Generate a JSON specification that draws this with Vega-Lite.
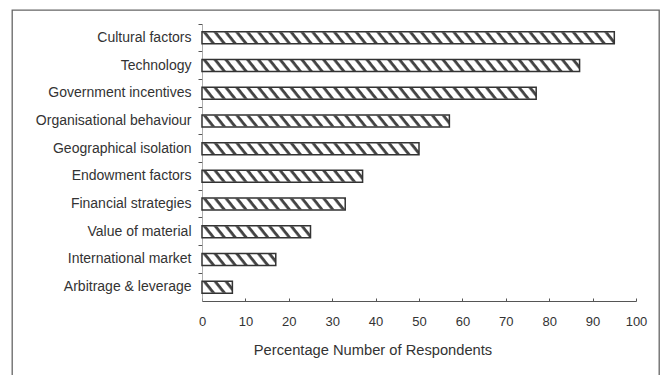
{
  "$schema": "https://vega.github.io/schema/vega-lite/v6.json",
  "width": 647,
  "height": 365,
  "autosize": {"type": "none"},
  "padding": {"left": 12, "top": 10, "right": 5, "bottom": 0},
  "background": "white",
  "config": {
    "view": {"stroke": "#666666", "strokeWidth": 1.3, "strokeDash": [1012, 647, 365]},
    "font": "Liberation Sans"
  },
  "data": {
    "values": [
      {"factor": "Cultural factors", "pct": 95},
      {"factor": "Technology", "pct": 87},
      {"factor": "Government incentives", "pct": 77},
      {"factor": "Organisational behaviour", "pct": 57},
      {"factor": "Geographical isolation", "pct": 50},
      {"factor": "Endowment factors", "pct": 37},
      {"factor": "Financial strategies", "pct": 33},
      {"factor": "Value of material", "pct": 25},
      {"factor": "International market", "pct": 17},
      {"factor": "Arbitrage & leverage", "pct": 7}
    ]
  },
  "encoding": {
    "y": {
      "field": "factor",
      "type": "nominal",
      "sort": null,
      "scale": {"range": [14, 291], "paddingInner": 0, "paddingOuter": 0},
      "axis": {
        "title": null,
        "orient": "left",
        "offset": -190,
        "bandPosition": 0,
        "tickSize": 4,
        "tickColor": "#555555",
        "domainColor": "#999999",
        "domainWidth": 0.8,
        "labelPadding": 7,
        "labelFontSize": 14,
        "labelColor": "#333333",
        "labelFont": "Liberation Sans"
      }
    }
  },
  "layer": [
    {
      "mark": {
        "type": "bar",
        "height": 11,
        "fill": {
          "gradient": "linear",
          "x1": 0, "y1": 0.0203, "x2": 1, "y2": 0,
          "stops": [
            {"offset": 0, "color": "#ffffff"}, {"offset": 0.004, "color": "#444444"}, {"offset": 0.009, "color": "#444444"}, {"offset": 0.012, "color": "#ffffff"},
            {"offset": 0.025, "color": "#ffffff"}, {"offset": 0.029, "color": "#444444"}, {"offset": 0.034, "color": "#444444"}, {"offset": 0.037, "color": "#ffffff"},
            {"offset": 0.05, "color": "#ffffff"}, {"offset": 0.054, "color": "#444444"}, {"offset": 0.059, "color": "#444444"}, {"offset": 0.062, "color": "#ffffff"},
            {"offset": 0.075, "color": "#ffffff"}, {"offset": 0.079, "color": "#444444"}, {"offset": 0.084, "color": "#444444"}, {"offset": 0.087, "color": "#ffffff"},
            {"offset": 0.1, "color": "#ffffff"}, {"offset": 0.104, "color": "#444444"}, {"offset": 0.109, "color": "#444444"}, {"offset": 0.112, "color": "#ffffff"},
            {"offset": 0.125, "color": "#ffffff"}, {"offset": 0.129, "color": "#444444"}, {"offset": 0.134, "color": "#444444"}, {"offset": 0.137, "color": "#ffffff"},
            {"offset": 0.15, "color": "#ffffff"}, {"offset": 0.154, "color": "#444444"}, {"offset": 0.159, "color": "#444444"}, {"offset": 0.162, "color": "#ffffff"},
            {"offset": 0.175, "color": "#ffffff"}, {"offset": 0.179, "color": "#444444"}, {"offset": 0.184, "color": "#444444"}, {"offset": 0.187, "color": "#ffffff"},
            {"offset": 0.2, "color": "#ffffff"}, {"offset": 0.204, "color": "#444444"}, {"offset": 0.209, "color": "#444444"}, {"offset": 0.212, "color": "#ffffff"},
            {"offset": 0.225, "color": "#ffffff"}, {"offset": 0.229, "color": "#444444"}, {"offset": 0.234, "color": "#444444"}, {"offset": 0.237, "color": "#ffffff"},
            {"offset": 0.25, "color": "#ffffff"}, {"offset": 0.254, "color": "#444444"}, {"offset": 0.259, "color": "#444444"}, {"offset": 0.262, "color": "#ffffff"},
            {"offset": 0.275, "color": "#ffffff"}, {"offset": 0.279, "color": "#444444"}, {"offset": 0.284, "color": "#444444"}, {"offset": 0.287, "color": "#ffffff"},
            {"offset": 0.3, "color": "#ffffff"}, {"offset": 0.304, "color": "#444444"}, {"offset": 0.309, "color": "#444444"}, {"offset": 0.312, "color": "#ffffff"},
            {"offset": 0.325, "color": "#ffffff"}, {"offset": 0.329, "color": "#444444"}, {"offset": 0.334, "color": "#444444"}, {"offset": 0.337, "color": "#ffffff"},
            {"offset": 0.35, "color": "#ffffff"}, {"offset": 0.354, "color": "#444444"}, {"offset": 0.359, "color": "#444444"}, {"offset": 0.362, "color": "#ffffff"},
            {"offset": 0.375, "color": "#ffffff"}, {"offset": 0.379, "color": "#444444"}, {"offset": 0.384, "color": "#444444"}, {"offset": 0.387, "color": "#ffffff"},
            {"offset": 0.4, "color": "#ffffff"}, {"offset": 0.404, "color": "#444444"}, {"offset": 0.409, "color": "#444444"}, {"offset": 0.412, "color": "#ffffff"},
            {"offset": 0.425, "color": "#ffffff"}, {"offset": 0.429, "color": "#444444"}, {"offset": 0.434, "color": "#444444"}, {"offset": 0.437, "color": "#ffffff"},
            {"offset": 0.45, "color": "#ffffff"}, {"offset": 0.454, "color": "#444444"}, {"offset": 0.459, "color": "#444444"}, {"offset": 0.462, "color": "#ffffff"},
            {"offset": 0.475, "color": "#ffffff"}, {"offset": 0.479, "color": "#444444"}, {"offset": 0.484, "color": "#444444"}, {"offset": 0.487, "color": "#ffffff"},
            {"offset": 0.5, "color": "#ffffff"}, {"offset": 0.504, "color": "#444444"}, {"offset": 0.509, "color": "#444444"}, {"offset": 0.512, "color": "#ffffff"},
            {"offset": 0.525, "color": "#ffffff"}, {"offset": 0.529, "color": "#444444"}, {"offset": 0.534, "color": "#444444"}, {"offset": 0.537, "color": "#ffffff"},
            {"offset": 0.55, "color": "#ffffff"}, {"offset": 0.554, "color": "#444444"}, {"offset": 0.559, "color": "#444444"}, {"offset": 0.562, "color": "#ffffff"},
            {"offset": 0.575, "color": "#ffffff"}, {"offset": 0.579, "color": "#444444"}, {"offset": 0.584, "color": "#444444"}, {"offset": 0.587, "color": "#ffffff"},
            {"offset": 0.6, "color": "#ffffff"}, {"offset": 0.604, "color": "#444444"}, {"offset": 0.609, "color": "#444444"}, {"offset": 0.612, "color": "#ffffff"},
            {"offset": 0.625, "color": "#ffffff"}, {"offset": 0.629, "color": "#444444"}, {"offset": 0.634, "color": "#444444"}, {"offset": 0.637, "color": "#ffffff"},
            {"offset": 0.65, "color": "#ffffff"}, {"offset": 0.654, "color": "#444444"}, {"offset": 0.659, "color": "#444444"}, {"offset": 0.662, "color": "#ffffff"},
            {"offset": 0.675, "color": "#ffffff"}, {"offset": 0.679, "color": "#444444"}, {"offset": 0.684, "color": "#444444"}, {"offset": 0.687, "color": "#ffffff"},
            {"offset": 0.7, "color": "#ffffff"}, {"offset": 0.704, "color": "#444444"}, {"offset": 0.709, "color": "#444444"}, {"offset": 0.712, "color": "#ffffff"},
            {"offset": 0.725, "color": "#ffffff"}, {"offset": 0.729, "color": "#444444"}, {"offset": 0.734, "color": "#444444"}, {"offset": 0.737, "color": "#ffffff"},
            {"offset": 0.75, "color": "#ffffff"}, {"offset": 0.754, "color": "#444444"}, {"offset": 0.759, "color": "#444444"}, {"offset": 0.762, "color": "#ffffff"},
            {"offset": 0.775, "color": "#ffffff"}, {"offset": 0.779, "color": "#444444"}, {"offset": 0.784, "color": "#444444"}, {"offset": 0.787, "color": "#ffffff"},
            {"offset": 0.8, "color": "#ffffff"}, {"offset": 0.804, "color": "#444444"}, {"offset": 0.809, "color": "#444444"}, {"offset": 0.812, "color": "#ffffff"},
            {"offset": 0.825, "color": "#ffffff"}, {"offset": 0.829, "color": "#444444"}, {"offset": 0.834, "color": "#444444"}, {"offset": 0.837, "color": "#ffffff"},
            {"offset": 0.85, "color": "#ffffff"}, {"offset": 0.854, "color": "#444444"}, {"offset": 0.859, "color": "#444444"}, {"offset": 0.862, "color": "#ffffff"},
            {"offset": 0.875, "color": "#ffffff"}, {"offset": 0.879, "color": "#444444"}, {"offset": 0.884, "color": "#444444"}, {"offset": 0.887, "color": "#ffffff"},
            {"offset": 0.9, "color": "#ffffff"}, {"offset": 0.904, "color": "#444444"}, {"offset": 0.909, "color": "#444444"}, {"offset": 0.912, "color": "#ffffff"},
            {"offset": 0.925, "color": "#ffffff"}, {"offset": 0.929, "color": "#444444"}, {"offset": 0.934, "color": "#444444"}, {"offset": 0.937, "color": "#ffffff"},
            {"offset": 0.95, "color": "#ffffff"}, {"offset": 0.954, "color": "#444444"}, {"offset": 0.959, "color": "#444444"}, {"offset": 0.962, "color": "#ffffff"},
            {"offset": 0.975, "color": "#ffffff"}, {"offset": 0.979, "color": "#444444"}, {"offset": 0.984, "color": "#444444"}, {"offset": 0.987, "color": "#ffffff"},
            {"offset": 1, "color": "#ffffff"}
          ]
        }
      },
      "encoding": {
        "x": {
          "datum": 0,
          "type": "quantitative",
          "scale": {"domain": [0, 100], "range": [190, 624], "nice": false},
          "axis": {
            "orient": "bottom",
            "offset": -74,
            "values": [0, 10, 20, 30, 40, 50, 60, 70, 80, 90, 100],
            "grid": false,
            "labelFlush": false,
            "tickSize": -3,
            "tickColor": "#555555",
            "domainColor": "#555555",
            "domainWidth": 1.2,
            "labelPadding": 17,
            "labelFontSize": 13,
            "labelColor": "#333333",
            "labelFont": "Liberation Sans",
            "title": "Percentage Number of Respondents",
            "titleFont": "Liberation Sans",
            "titleFontSize": 14.7,
            "titleFontWeight": "normal",
            "titleColor": "#333333",
            "titleX": 360.5,
            "titleY": 53.3,
            "titleAlign": "center",
            "titleBaseline": "alphabetic"
          }
        },
        "x2": {"datum": 100}
      }
    },
    {
      "mark": {"type": "bar", "height": 16, "fill": "white", "stroke": null},
      "encoding": {
        "x": {"field": "pct", "type": "quantitative"},
        "x2": {"datum": 100}
      }
    },
    {
      "mark": {"type": "bar", "height": 12, "fill": "transparent", "stroke": "#333333", "strokeWidth": 1.5},
      "encoding": {
        "x": {"field": "pct", "type": "quantitative"}
      }
    }
  ]
}
